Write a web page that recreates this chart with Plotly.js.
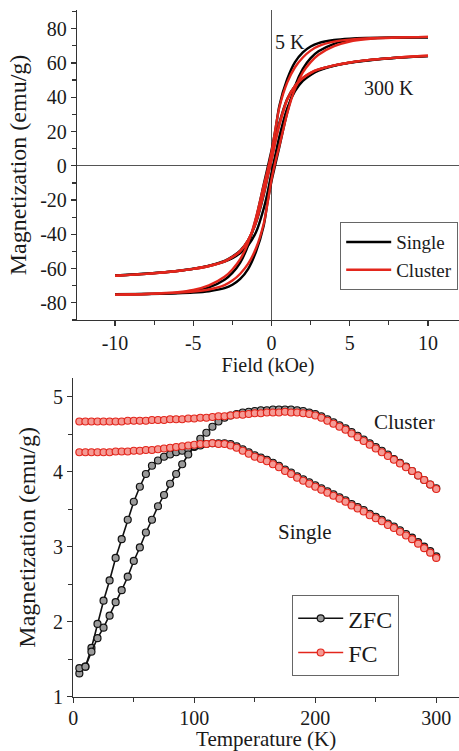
<!DOCTYPE html>
<html>
<head>
<meta charset="utf-8">
<script src="https://cdn.plot.ly/plotly-3.0.1.min.js"></script>
<style>
html,body{margin:0;padding:0;background:#fff;}
#chart{width:459px;height:751px;}
</style>
</head>
<body>
<div id="chart"></div>
<script>
// ---------- Top panel: hysteresis loops ----------
const fieldDown = [10, 8, 6, 5, 4, 3, 2.5, 2, 1.5, 1, 0.5, 0.25, 0, -0.25, -0.5, -1, -1.5, -2, -2.5, -3, -4, -5, -6, -8, -10];
const fieldUp   = [-10, -8, -6, -5, -4, -3, -2.5, -2, -1.5, -1, -0.5, -0.25, 0, 0.25, 0.5, 1, 1.5, 2, 2.5, 3, 4, 5, 6, 8, 10];

const single5KDown = [75.0, 74.9, 74.6, 74.2, 73.4, 71.6, 69.6, 66.2, 60.5, 50.5, 35.0, 21.0, 9.0, -1.0, -11.0, -31.0, -46.5, -56.5, -62.5, -66.5, -71.0, -73.2, -74.2, -74.8, -75.0];
const single5KUp   = [-75.0, -74.8, -74.4, -74.0, -73.2, -71.4, -69.4, -66.0, -60.3, -50.3, -35.0, -21.0, -9.0, 1.0, 11.0, 31.0, 46.5, 56.5, 62.8, 66.8, 71.2, 73.3, 74.2, 74.8, 75.0];
const single300KDown = [64.0, 63.0, 61.4, 60.2, 58.5, 56.0, 54.0, 51.0, 46.5, 39.0, 25.0, 15.5, 4.0, -6.5, -17.0, -33.5, -43.5, -49.5, -53.0, -55.5, -58.3, -60.1, -61.3, -63.0, -64.0];
const single300KUp   = [-64.0, -63.0, -61.4, -60.2, -58.5, -56.0, -54.0, -51.0, -46.5, -39.0, -25.0, -15.5, -4.0, 6.5, 17.0, 33.5, 43.5, 49.5, 53.0, 55.5, 58.3, 60.1, 61.3, 63.0, 64.0];

const cluster5KDown = [75.2, 74.9, 74.3, 73.6, 72.4, 69.8, 67.2, 63.2, 57.5, 48.5, 34.0, 21.5, 8.0, -2.5, -11.5, -30.5, -45.0, -54.5, -60.5, -64.8, -69.8, -72.5, -73.8, -74.8, -75.2];
const cluster5KUp   = [-75.2, -74.8, -74.0, -73.4, -72.2, -69.6, -67.0, -63.0, -57.3, -48.3, -33.8, -21.5, -8.0, 2.5, 11.5, 30.5, 45.0, 54.5, 60.5, 64.8, 69.8, 72.5, 73.8, 74.8, 75.2];
const cluster300KDown = [64.2, 63.1, 61.5, 60.3, 58.6, 56.2, 54.2, 51.2, 46.5, 38.5, 24.0, 14.5, 3.5, -6.0, -16.0, -33.0, -43.5, -49.8, -53.3, -55.8, -58.5, -60.2, -61.4, -63.1, -64.2];
const cluster300KUp   = [-64.2, -63.1, -61.4, -60.2, -58.5, -55.8, -53.3, -49.8, -43.5, -33.0, -16.0, -6.0, 3.5, 14.5, 24.0, 38.5, 46.5, 51.2, 54.2, 56.2, 58.6, 60.3, 61.5, 63.1, 64.2];

const loopXTicks = [-10, -5, 0, 5, 10];
const loopYTicks = [-80, -60, -40, -20, 0, 20, 40, 60, 80];

// ---------- Bottom panel: ZFC / FC ----------
const temperature = [5,10,15,20,25,30,35,40,45,50,55,60,65,70,75,80,85,90,95,100,105,110,115,120,125,130,135,140,145,150,155,160,165,170,175,180,185,190,195,200,205,210,215,220,225,230,235,240,245,250,255,260,265,270,275,280,285,290,295,300];

const singleZFC = [1.31,1.40,1.65,1.97,2.28,2.55,2.85,3.10,3.36,3.60,3.80,3.97,4.08,4.15,4.20,4.23,4.26,4.28,4.30,4.33,4.35,4.37,4.38,4.38,4.38,4.37,4.34,4.30,4.26,4.22,4.19,4.16,4.12,4.08,4.03,3.99,3.94,3.90,3.86,3.82,3.78,3.74,3.70,3.66,3.62,3.57,3.53,3.49,3.44,3.40,3.36,3.31,3.27,3.22,3.17,3.12,3.06,3.00,2.94,2.87];
const singleFC  = [4.26,4.26,4.26,4.26,4.26,4.26,4.27,4.27,4.27,4.28,4.28,4.29,4.29,4.30,4.31,4.32,4.33,4.34,4.35,4.36,4.37,4.37,4.38,4.37,4.37,4.35,4.32,4.28,4.24,4.20,4.17,4.14,4.10,4.06,4.01,3.97,3.92,3.88,3.84,3.80,3.76,3.72,3.68,3.64,3.60,3.55,3.51,3.47,3.42,3.38,3.34,3.29,3.25,3.20,3.15,3.10,3.04,2.98,2.92,2.85];
const clusterZFC = [1.38,1.40,1.60,1.78,1.92,2.08,2.26,2.42,2.60,2.81,2.99,3.19,3.36,3.54,3.69,3.84,3.97,4.10,4.23,4.34,4.44,4.52,4.60,4.67,4.72,4.75,4.77,4.79,4.80,4.81,4.82,4.82,4.83,4.83,4.83,4.83,4.82,4.81,4.79,4.77,4.74,4.70,4.66,4.62,4.58,4.53,4.48,4.43,4.38,4.33,4.28,4.23,4.17,4.12,4.07,4.01,3.95,3.89,3.83,3.78];
const clusterFC  = [4.67,4.67,4.67,4.67,4.67,4.67,4.67,4.67,4.68,4.68,4.68,4.68,4.69,4.69,4.69,4.70,4.70,4.70,4.71,4.71,4.72,4.72,4.73,4.74,4.74,4.75,4.76,4.76,4.77,4.78,4.78,4.79,4.79,4.79,4.80,4.79,4.79,4.78,4.77,4.75,4.72,4.68,4.64,4.60,4.56,4.51,4.46,4.41,4.36,4.31,4.26,4.21,4.16,4.11,4.06,4.01,3.95,3.89,3.83,3.77];

const tempXTicks = [0, 100, 200, 300];
const tempYTicks = [1, 2, 3, 4, 5];

// ---------- styling ----------
const FONT = "'Liberation Serif', 'Times New Roman', serif";
const BLACK = '#000000';
const RED = '#e3261c';

function loopTrace(x, y, color, name, show) {
  return {x: x, y: y, type: 'scatter', mode: 'lines', name: name, legendgroup: name,
    showlegend: show, legend: 'legend', xaxis: 'x', yaxis: 'y',
    line: {color: color, width: 2.4, shape: 'spline', smoothing: 0.8}, hoverinfo: 'skip'};
}
function tempTrace(y, kind, show) {
  const zfc = kind === 'ZFC';
  return {x: temperature, y: y, type: 'scatter', mode: 'lines+markers', name: kind, legendgroup: kind,
    showlegend: show, legend: 'legend2', xaxis: 'x2', yaxis: 'y2',
    line: {color: zfc ? '#111111' : RED, width: 1.6},
    marker: {symbol: 'circle', size: 7, color: zfc ? '#9a9a9a' : '#f59a94',
             line: {color: zfc ? '#111111' : RED, width: 1.2}}, hoverinfo: 'skip'};
}

const data = [
  loopTrace(fieldDown, single5KDown, BLACK, 'Single', true),
  loopTrace(fieldUp, single5KUp, BLACK, 'Single', false),
  loopTrace(fieldDown, single300KDown, BLACK, 'Single', false),
  loopTrace(fieldUp, single300KUp, BLACK, 'Single', false),
  loopTrace(fieldDown, cluster5KDown, RED, 'Cluster', true),
  loopTrace(fieldUp, cluster5KUp, RED, 'Cluster', false),
  loopTrace(fieldDown, cluster300KDown, RED, 'Cluster', false),
  loopTrace(fieldUp, cluster300KUp, RED, 'Cluster', false),
  tempTrace(singleZFC, 'ZFC', true),
  tempTrace(clusterZFC, 'ZFC', false),
  tempTrace(singleFC, 'FC', true),
  tempTrace(clusterFC, 'FC', false)
];

const axisCommon = {
  showgrid: false, showline: true, linecolor: '#333', linewidth: 1.2,
  ticks: 'outside', ticklen: 5, tickwidth: 1.2, tickcolor: '#333',
  tickfont: {family: FONT, size: 20, color: '#1a1a1a'}, automargin: false
};

const layout = {
  width: 459, height: 751,
  margin: {l: 0, r: 0, t: 0, b: 0},
  paper_bgcolor: '#ffffff', plot_bgcolor: '#ffffff',
  font: {family: FONT, color: '#1a1a1a'},
  showlegend: true,
  xaxis: Object.assign({}, axisCommon, {
    domain: [77/459, 1], range: [-12.43, 11.98], anchor: 'y',
    tickmode: 'array', tickvals: loopXTicks, ticktext: loopXTicks.map(String),
    minor: {tickmode: 'linear', tick0: 0, dtick: 2.5, ticks: 'outside', ticklen: 4, tickcolor: '#333'},
    zeroline: true, zerolinecolor: '#555', zerolinewidth: 1,
    title: {text: 'Field (kOe)', font: {family: FONT, size: 20}, standoff: 0}
  }),
  yaxis: Object.assign({}, axisCommon, {
    domain: [431/751, 741/751], range: [-90, 90.9], anchor: 'x',
    tickmode: 'array', tickvals: loopYTicks, ticktext: loopYTicks.map(String),
    minor: {tickmode: 'linear', tick0: 0, dtick: 10, ticks: 'outside', ticklen: 4, tickcolor: '#333'},
    zeroline: true, zerolinecolor: '#555', zerolinewidth: 1,
    title: {text: 'Magnetization (emu/g)', font: {family: FONT, size: 24}, standoff: 6}
  }),
  xaxis2: Object.assign({}, axisCommon, {
    domain: [73.3/459, 1], range: [0, 318.8], anchor: 'y2',
    tickmode: 'array', tickvals: tempXTicks, ticktext: tempXTicks.map(String),
    minor: {tickmode: 'linear', tick0: 0, dtick: 50, ticks: 'outside', ticklen: 4, tickcolor: '#333'},
    zeroline: false, ticklabelstandoff: -2,
    title: {text: 'Temperature (K)', font: {family: FONT, size: 21}, standoff: 0}
  }),
  yaxis2: Object.assign({}, axisCommon, {
    domain: [54.3/751, 373/751], range: [1, 5.25], anchor: 'x2',
    tickmode: 'array', tickvals: tempYTicks, ticktext: tempYTicks.map(String),
    minor: {tickmode: 'linear', tick0: 0, dtick: 0.5, ticks: 'outside', ticklen: 4, tickcolor: '#333'},
    zeroline: false,
    title: {text: 'Magnetization (emu/g)', font: {family: FONT, size: 24}, standoff: 10}
  }),
  legend: {
    x: 340/459, y: 1 - 222/751, xanchor: 'left', yanchor: 'top',
    bgcolor: '#ffffff', bordercolor: '#666', borderwidth: 1.2,
    font: {family: FONT, size: 19, color: '#1a1a1a'}, itemwidth: 45, tracegroupgap: 0
  },
  legend2: {
    x: 292/459, y: 1 - 595/751, xanchor: 'left', yanchor: 'top',
    bgcolor: '#ffffff', bordercolor: '#666', borderwidth: 1.2,
    font: {family: FONT, size: 24, color: '#1a1a1a'}, itemwidth: 45, tracegroupgap: 0
  },
  annotations: [
    {xref: 'x', yref: 'y', x: 1.15, y: 72.2, text: '5 K', showarrow: false, font: {family: FONT, size: 20, color: '#1a1a1a'}},
    {xref: 'x', yref: 'y', x: 7.48, y: 45.4, text: '300 K', showarrow: false, font: {family: FONT, size: 20, color: '#1a1a1a'}},
    {xref: 'x2', yref: 'y2', x: 274, y: 4.66, text: 'Cluster', showarrow: false, font: {family: FONT, size: 21, color: '#1a1a1a'}},
    {xref: 'x2', yref: 'y2', x: 191.5, y: 3.19, text: 'Single', showarrow: false, font: {family: FONT, size: 21, color: '#1a1a1a'}}
  ]
};

Plotly.newPlot('chart', data, layout, {staticPlot: true, displayModeBar: false});
</script>
</body>
</html>
